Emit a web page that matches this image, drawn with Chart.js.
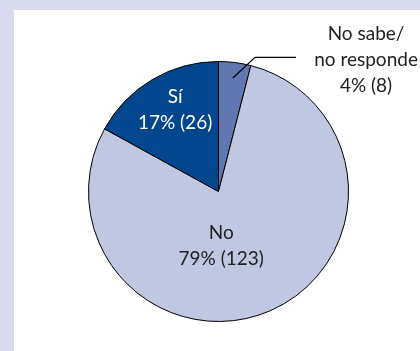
<!DOCTYPE html>
<html>
<head>
<meta charset="utf-8">
<script src="https://cdn.jsdelivr.net/npm/chart.js@4"></script>
<style>
  html, body { margin: 0; padding: 0; }
  body { width: 420px; height: 351px; background: #d8daee; position: relative; overflow: hidden; }
  #panel { position: absolute; left: 14px; top: 10px; width: 406px; height: 341px; background: #fff; }
  #panel canvas { display: block; }
</style>
</head>
<body>
<div id="panel"><canvas id="pie" width="406" height="341"></canvas></div>
<script>
  // clockwise from 12 o'clock
  const labels = ["No sabe/ no responde", "No", "Sí"];
  const percents = [4, 79, 17];
  const counts = [8, 123, 26];
  const colors = ["#6077b1", "#bfc7e1", "#02478d"];

  const FONT = '19px Lato, "Open Sans", sans-serif';

  // slice labels, placed relative to each arc's geometry
  const sliceLabels = {
    id: "sliceLabels",
    afterDatasetsDraw(chart) {
      const ctx = chart.ctx;
      const arcs = chart.getDatasetMeta(0).data;
      ctx.save();
      ctx.font = FONT;
      ctx.textAlign = "center";
      ctx.textBaseline = "middle";

      const polar = (arc, ang, frac) => ({
        x: arc.x + Math.cos(ang) * arc.outerRadius * frac,
        y: arc.y + Math.sin(ang) * arc.outerRadius * frac,
      });

      // Sí
      const si = arcs[2];
      const pSi = polar(si, -Math.PI / 2 - 0.49, 0.71);
      ctx.fillStyle = "#fff";
      ctx.fillText("Sí", pSi.x, pSi.y - 13);
      ctx.fillText(`${percents[2]}% (${counts[2]})`, pSi.x, pSi.y + 13);

      // No
      const no = arcs[1];
      const pNo = polar(no, Math.PI / 2 - 0.05, 0.42);
      ctx.fillStyle = "#222";
      ctx.fillText("No", pNo.x, pNo.y - 13);
      ctx.fillText(`${percents[1]}% (${counts[1]})`, pNo.x, pNo.y + 13);

      // No sabe: leader line + external text
      const ns = arcs[0];
      const mid = (ns.startAngle + ns.endAngle) / 2;
      const a = polar(ns, mid, 0.88);
      const b = polar(ns, mid + 0.14, 1.07);
      ctx.strokeStyle = "#000";
      ctx.lineWidth = 1.3;
      ctx.beginPath();
      ctx.moveTo(a.x, a.y);
      ctx.lineTo(b.x, b.y);
      ctx.lineTo(b.x + 41, b.y);
      ctx.stroke();

      const tx = ns.x + ns.outerRadius * 1.135;
      const ty = ns.y - ns.outerRadius * 1.01;
      ctx.fillStyle = "#222";
      ctx.fillText("No sabe/", tx, ty - 26);
      ctx.fillText("no responde", tx, ty);
      ctx.fillText(`${percents[0]}% (${counts[0]})`, tx, ty + 26);
      ctx.restore();
    },
  };

  new Chart(document.getElementById("pie"), {
    type: "pie",
    data: {
      labels: labels,
      datasets: [{
        data: percents,
        backgroundColor: colors,
        borderColor: "#000",
        borderWidth: 1,
      }],
    },
    options: {
      responsive: false,
      animation: false,
      layout: { padding: { left: 74, top: 51, right: 71, bottom: 29 } },
      plugins: { legend: { display: false }, tooltip: { enabled: false } },
    },
    plugins: [sliceLabels],
  });
</script>
</body>
</html>
